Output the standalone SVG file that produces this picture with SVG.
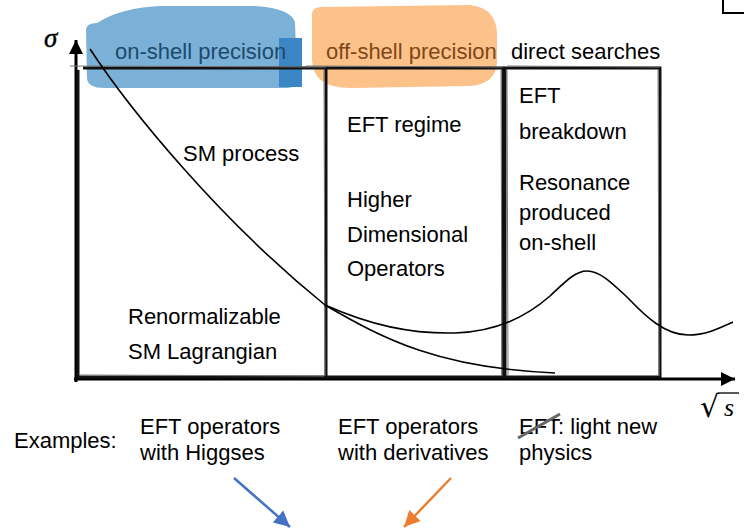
<svg xmlns="http://www.w3.org/2000/svg" width="744" height="531" viewBox="0 0 744 531">
<defs>
<style>
.t{font-family:"Liberation Sans",Arial,sans-serif;font-size:22px;fill:#000}
.box{fill:none;stroke:#111;stroke-width:3;stroke-linejoin:miter}
.sk{fill:none;stroke:#777;stroke-width:1}
.crv{fill:none;stroke:#000;stroke-width:1.6}
</style>
<marker id="ahK" markerUnits="userSpaceOnUse" markerWidth="16" markerHeight="14" refX="14" refY="7" orient="auto"><path d="M0,0 L14,7 L0,14 Z" fill="#000"/></marker>
<marker id="ahB" markerUnits="userSpaceOnUse" markerWidth="18" markerHeight="16" refX="16" refY="8" orient="auto"><path d="M0,0 L16,8 L0,16 Z" fill="#4472c4"/></marker>
<marker id="ahO" markerUnits="userSpaceOnUse" markerWidth="18" markerHeight="16" refX="16" refY="8" orient="auto"><path d="M0,0 L16,8 L0,16 Z" fill="#ed7d31"/></marker>
</defs>
<rect width="744" height="531" fill="#fff"/>

<g id="highlights">
<path d="M86 30 Q86 23 97 23 Q120 8 160 6 L255 6 Q290 8 295 22 L297 80 Q297 88 285 88 L105 88 Q87 88 87 78 Z" fill="#7bb1d6"/>
<rect x="279" y="38" width="23" height="49" fill="#3b86c4"/>
<path d="M312 14 Q312 7 322 7 L470 5 Q497 8 497 35 L497 60 Q497 84 470 86 L350 88 Q313 88 312 60 Z" fill="#fdc18a"/>
</g>

<g id="axes">
<line x1="76" y1="382" x2="76" y2="40" stroke="#000" stroke-width="3" marker-end="url(#ahK)"/>
<line x1="74" y1="379" x2="735" y2="379" stroke="#000" stroke-width="3" marker-end="url(#ahK)"/>
<text x="44" y="47" style="font-family:'Liberation Serif','DejaVu Serif',serif;font-style:italic;font-size:27px;stroke:#000;stroke-width:0.4">σ</text>
<text x="700" y="417" style="font-family:'DejaVu Serif',serif;font-size:30px">√</text>
<line x1="718" y1="393" x2="739" y2="393" stroke="#000" stroke-width="1.3"/>
<text x="724" y="416" style="font-family:'Liberation Serif','DejaVu Serif',serif;font-style:italic;font-size:26px">s</text>
<path d="M723 0 L723 13 L744 13" fill="none" stroke="#000" stroke-width="2"/>
</g>

<g id="region-sm">
<path class="box" d="M83 68 L326 68 L326 377 L78 377 L78 70"/>
<path class="sk" d="M70 66 L326 67 M324 70 L325 376 M80 375 L324 376"/>
<text class="t" x="115" y="59" style="fill:#1d4a6c">on-shell precision</text>
<text class="t" x="183" y="161">SM process</text>
<text class="t" x="128" y="324">Renormalizable</text>
<text class="t" x="128" y="359">SM Lagrangian</text>
</g>

<g id="region-eft">
<path class="box" d="M326 68 L503 68 L503 377 L326 377"/>
<path class="sk" d="M306 66 L503 67 M501 70 L502 376"/>
<text class="t" x="326" y="59" style="fill:#7e4819">off-shell precision</text>
<text class="t" x="347" y="132">EFT regime</text>
<text class="t" x="347" y="207">Higher</text>
<text class="t" x="347" y="242">Dimensional</text>
<text class="t" x="347" y="276">Operators</text>
</g>

<g id="region-direct">
<path class="box" d="M505 68 L660 68 L660 377 L505 377 Z"/>
<path class="sk" d="M507 66 L660 67 M658 70 L659 376 M507 70 L508 376"/>
<text class="t" x="511" y="59">direct searches</text>
<text class="t" x="519" y="103">EFT</text>
<text class="t" x="519" y="139">breakdown</text>
<text class="t" x="519" y="190">Resonance</text>
<text class="t" x="519" y="220">produced</text>
<text class="t" x="519" y="250">on-shell</text>
</g>

<g id="curves">
<path class="crv" d="M90 49 C130 110 220 220 325 305 C385 340 440 368 555 373"/>
<path class="crv" d="M325 305 C370 325 410 334 455 333 C495 332 525 318 550 296 C565 282 575 271 587 271 C600 271 612 283 628 298 C645 316 665 335 688 335 C706 335 720 328 733 322"/>
</g>

<g id="examples">
<text class="t" x="14" y="448">Examples:</text>
<text class="t" x="140" y="434">EFT operators</text>
<text class="t" x="140" y="460">with Higgses</text>
</g>
<g id="example-derivatives">
<text class="t" x="338" y="434">EFT operators</text>
<text class="t" x="338" y="460">with derivatives</text>
</g>
<g id="example-light">
<text class="t" x="519" y="434">EFT: light new</text>
<text class="t" x="519" y="460">physics</text>
<line x1="518" y1="438" x2="560" y2="414" stroke="#666" stroke-width="3"/>
</g>

<g id="connectors">
<line x1="234" y1="478" x2="290" y2="527" stroke="#4472c4" stroke-width="2.5" marker-end="url(#ahB)"/>
<line x1="451" y1="478" x2="404" y2="527" stroke="#ed7d31" stroke-width="2.5" marker-end="url(#ahO)"/>
</g>
</svg>
